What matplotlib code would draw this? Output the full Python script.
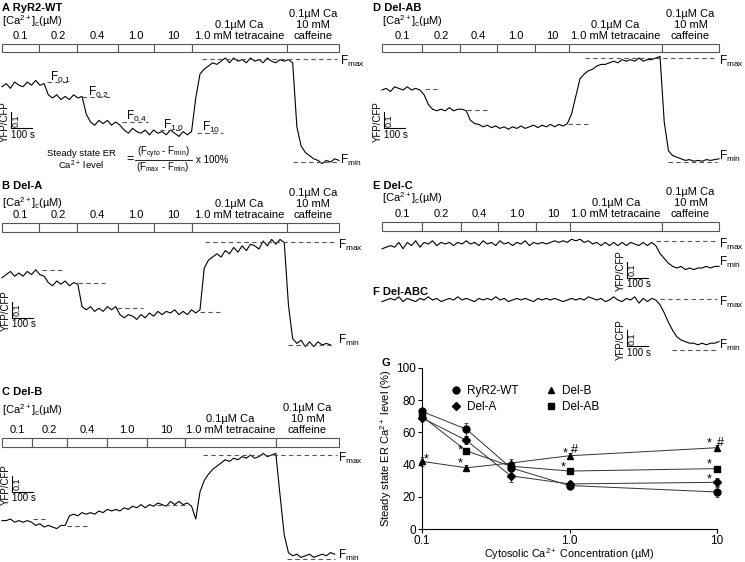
import numpy as np
import matplotlib
matplotlib.use('Agg')
import matplotlib.pyplot as plt
from matplotlib.patches import Rectangle
from matplotlib.lines import Line2D
from matplotlib.ticker import NullLocator

plt.rcParams['font.family'] = ['Liberation Sans', 'DejaVu Sans']
plt.rcParams['mathtext.fontset'] = 'custom'
plt.rcParams['mathtext.rm'] = 'Liberation Sans'
plt.rcParams['mathtext.it'] = 'Liberation Sans:italic'
plt.rcParams['mathtext.bf'] = 'Liberation Sans:bold'
plt.rcParams['mathtext.default'] = 'regular'

W, H = 745, 562
STEP = 20          # s between trace samples
SPAN = 1600        # s covered by the solution bar
BAR_W = 337        # px width of the solution bar
PX_PER_RATIO = 160 # px per 1.0 YFP/CFP

# ---- solution protocol ----
conditions = ['0.1', '0.2', '0.4', '1.0', '10']
tetracaine_label = ['0.1µM Ca', '1.0 mM tetracaine']
caffeine_label = ['0.1µM Ca', '10 mM', 'caffeine']

# ---- YFP/CFP traces (sampled every 20 s) ----
A_trace = [1.47, 1.49, 1.46, 1.50, 1.48, 1.47, 1.50, 1.48, 1.51, 1.48, 1.49,
           1.42, 1.40, 1.42, 1.39, 1.41, 1.39, 1.42, 1.40, 1.41,
           1.30, 1.25, 1.23, 1.26, 1.24, 1.26, 1.23, 1.25, 1.23,
           1.20, 1.18, 1.21, 1.19, 1.18, 1.20, 1.17, 1.20, 1.18, 1.19, 1.17,
           1.20, 1.18, 1.16, 1.19, 1.17, 1.19,
           1.40, 1.55, 1.58, 1.60, 1.62, 1.61, 1.63, 1.65, 1.62, 1.65, 1.63,
           1.64, 1.62, 1.65, 1.63, 1.64, 1.62, 1.65, 1.63, 1.62, 1.64, 1.63,
           1.64, 1.62,
           1.22, 1.10, 1.06, 1.04, 1.02, 1.01, 0.99, 1.01, 1.00, 1.02, 1.01]
A_levels = [(214, 323, 1.50), (380, 513, 1.406), (570, 693, 1.25),
            (750, 860, 1.20), (926, 1049, 1.18), (950, 1590, 1.644),
            (1382, 1605, 1.00)]

B_trace = [1.42, 1.44, 1.46, 1.43, 1.45, 1.43, 1.46, 1.44, 1.47, 1.44,
           1.43, 1.39, 1.37, 1.40, 1.38, 1.40, 1.37, 1.39, 1.38,
           1.24, 1.22, 1.24, 1.21, 1.23, 1.21, 1.24, 1.22, 1.24,
           1.19, 1.17, 1.19, 1.18, 1.16, 1.19, 1.17, 1.20, 1.18, 1.21,
           1.19, 1.21, 1.20, 1.22, 1.19, 1.21, 1.19, 1.22, 1.20, 1.22,
           1.48, 1.53, 1.55, 1.57, 1.55, 1.59, 1.57, 1.61, 1.58, 1.62,
           1.59, 1.63, 1.62, 1.60, 1.65, 1.62, 1.66, 1.63, 1.66, 1.64,
           1.25, 1.04, 1.01, 1.03, 0.99, 1.02, 0.99, 1.02, 1.00, 1.01, 1.00]
B_levels = [(190, 285, 1.47), (361, 489, 1.39), (546, 670, 1.23),
            (940, 1035, 1.206), (964, 1590, 1.644), (1358, 1572, 1.00)]

C_trace = [1.24, 1.24, 1.25, 1.23, 1.24, 1.23, 1.24, 1.23,
           1.21, 1.22, 1.20, 1.21, 1.20, 1.19, 1.21, 1.21,
           1.27, 1.28, 1.27, 1.29, 1.28, 1.29, 1.28, 1.30, 1.29, 1.31,
           1.30, 1.31, 1.30, 1.32, 1.31, 1.33, 1.32, 1.34, 1.32, 1.34,
           1.33, 1.35, 1.34, 1.33, 1.36, 1.34, 1.36, 1.34, 1.35, 1.33,
           1.25, 1.42, 1.49, 1.53, 1.56, 1.58, 1.60, 1.62, 1.61, 1.63,
           1.62, 1.64, 1.63, 1.65, 1.63, 1.64, 1.66, 1.64, 1.65, 1.66,
           1.40, 1.15, 1.04, 1.02, 1.03, 1.01, 1.02, 1.03, 1.01, 1.02,
           1.03, 1.02, 1.04, 1.03]
C_levels = [(148, 219, 1.25), (309, 404, 1.206), (736, 879, 1.34),
            (955, 1590, 1.65), (1353, 1580, 1.00)]

D_trace = [1.45, 1.46, 1.44, 1.47, 1.46, 1.45, 1.47, 1.45, 1.46, 1.45,
           1.42, 1.36, 1.33, 1.32, 1.33, 1.32, 1.34, 1.32, 1.33, 1.33, 1.32,
           1.26, 1.24, 1.235, 1.22, 1.23, 1.215, 1.225, 1.21, 1.22, 1.205,
           1.22, 1.21, 1.225, 1.21, 1.22, 1.23, 1.215, 1.23, 1.22, 1.235,
           1.22, 1.235, 1.225, 1.24,
           1.30, 1.41, 1.52, 1.55, 1.57, 1.58, 1.60, 1.61, 1.61, 1.62, 1.63,
           1.62, 1.64, 1.63, 1.64, 1.63, 1.65, 1.63, 1.64, 1.64, 1.65, 1.66,
           1.25, 1.07, 1.04, 1.03, 1.02, 1.01, 1.015, 1.005, 1.01, 1.005,
           1.015, 1.01, 1.015, 1.02]
D_levels = [(204, 275, 1.456), (403, 499, 1.325), (883, 978, 1.24),
            (964, 1591, 1.65), (1358, 1591, 1.00)]

E_trace = [1.12, 1.13, 1.14, 1.13, 1.16, 1.12, 1.16, 1.14, 1.17, 1.13,
           1.16, 1.15, 1.17, 1.14, 1.16, 1.15, 1.16, 1.14, 1.16, 1.15,
           1.17, 1.15, 1.16, 1.14, 1.17, 1.15, 1.16, 1.14, 1.17, 1.15,
           1.16, 1.14, 1.16, 1.15, 1.17, 1.14, 1.16, 1.15, 1.16, 1.15,
           1.16, 1.17, 1.16, 1.17, 1.16, 1.18, 1.17, 1.18, 1.16, 1.17,
           1.15, 1.16, 1.14, 1.16, 1.14, 1.16, 1.14, 1.16, 1.14, 1.16,
           1.15, 1.14, 1.16, 1.14, 1.16, 1.14,
           1.09, 1.06, 1.03, 1.01, 1.00, 1.01, 0.99, 1.00, 0.99, 1.00,
           1.00, 1.01, 1.00, 1.01, 1.01]
E_levels = [(1301, 1591, 1.17)]

F_trace = [1.29, 1.30, 1.31, 1.30, 1.32, 1.29, 1.31, 1.30, 1.29, 1.31,
           1.30, 1.32, 1.30, 1.31, 1.29, 1.30, 1.31, 1.30, 1.32, 1.30,
           1.31, 1.30, 1.29, 1.31, 1.30, 1.31, 1.30, 1.32, 1.30, 1.31,
           1.29, 1.30, 1.31, 1.30, 1.31, 1.30, 1.29, 1.31, 1.30, 1.31,
           1.30, 1.31, 1.30, 1.29, 1.30, 1.31, 1.30, 1.31, 1.30, 1.32,
           1.31, 1.30, 1.31, 1.29, 1.30, 1.32, 1.30, 1.29, 1.31, 1.30,
           1.32, 1.28, 1.31, 1.29, 1.31, 1.30,
           1.27, 1.22, 1.16, 1.11, 1.07, 1.05, 1.04, 1.03, 1.03, 1.02,
           1.03, 1.02, 1.03, 1.03, 1.04]
F_levels = [(1320, 1591, 1.306), (1377, 1591, 0.99)]

# ---- panel G: steady-state ER Ca2+ level (%) ----
conc = [0.1, 0.2, 0.4, 1.0, 10]
wt_mean = [73, 62, 38, 27, 23]
wt_err = [1.5, 4, 2, 2, 3]
dela_mean = [69, 55, 33, 28, 29]
dela_err = [1.5, 2.5, 4, 2, 2.5]
delb_mean = [42, 38, 41, 45.5, 50.5]
delb_err = [3, 1.5, 2.5, 1.5, 1.5]
delab_mean = [70, 48.5, 39, 36, 37.5]
delab_err = [1, 1, 2.5, 1, 1]
sig_marks = [(0.107, 43.5, '*'), (0.181, 48.5, '*'), (0.181, 40.5, '*'),
             (0.93, 47, '*'), (1.08, 49, '#'), (0.9, 38, '*'),
             (8.9, 53, '*'), (10.6, 53.5, '#'), (8.9, 40, '*'),
             (8.9, 30.5, '*')]

fig = plt.figure(figsize=(W / 100, H / 100), dpi=100)
canvas = fig.add_axes([0, 0, 1, 1])
canvas.set_xlim(0, W)
canvas.set_ylim(H, 0)
canvas.axis('off')

FS = 8


def draw_header(title, tx, ty, edges, top, bottom, ca_y):
    canvas.text(tx, ty, title, fontsize=8, fontweight='bold', ha='left', va='center')
    canvas.text(edges[0], ca_y, '[Ca$^{2+}$]$_c$(µM)', fontsize=FS, ha='left', va='center')
    for i in range(len(edges) - 1):
        canvas.add_patch(Rectangle((edges[i], top), edges[i + 1] - edges[i], bottom - top,
                                   fc='white', ec='#555555', lw=0.8))
    centers = [(edges[i] + edges[i + 1]) / 2 for i in range(len(edges) - 1)]
    for c, lab in zip(centers[:5], conditions):
        canvas.text(c, top - 8, lab, fontsize=FS, ha='center', va='center')
    for k, lab in enumerate(tetracaine_label):
        canvas.text(centers[5], top - 19 + 11 * k, lab, fontsize=FS, ha='center', va='center')
    for k, lab in enumerate(caffeine_label):
        canvas.text(centers[6], top - 30 + 11 * k, lab, fontsize=FS, ha='center', va='center')


def trace_axes(x0, yref, ytop, ybot):
    ax = fig.add_axes([x0 / W, 1 - ybot / H, BAR_W / W, (ybot - ytop) / H])
    ax.set_xlim(0, SPAN)
    ax.set_ylim(1 + (yref - ybot) / PX_PER_RATIO, 1 + (yref - ytop) / PX_PER_RATIO)
    ax.axis('off')
    return ax


def draw_trace(ax, trace, levels, anchor):
    t = np.arange(len(trace)) * STEP
    ax.plot(t, trace, color='black', lw=0.8, clip_on=False)
    for t0, t1, r in levels:
        ax.plot([t0, t1], [r, r], color='#555555', lw=0.8, ls=(0, (4, 3)), clip_on=False)
    sx, sy = anchor
    ax.plot([sx, sx, sx + 100], [sy + 0.1, sy, sy], color='black', lw=0.8, clip_on=False)
    ax.text(sx + 24, sy + 0.05, '0.1', rotation=90, fontsize=6.5, ha='center', va='center')
    ax.text(sx + 55, sy - 0.04, '100 s', fontsize=7, ha='center', va='center')
    ax.text(sx - 28, sy + 0.045, 'YFP/CFP', rotation=90, fontsize=7, ha='center', va='center')


def flabel(x, y, sub):
    canvas.text(x, y, 'F$_{%s}$' % sub, fontsize=8.5, ha='left', va='center')


left_edges = [2, 39, 77, 118, 154, 192, 287, 339]
c_edges = [2, 32, 67, 107, 147, 185, 276, 339]
d_edges = [382, 422, 460, 497, 535, 569, 662, 719]
e_edges = [382, 422, 461, 498, 536, 570, 662, 719]

draw_header('A RyR2-WT', 2, 8, left_edges, 44, 52, 21)
draw_header('B Del-A', 2, 186, left_edges, 223, 232, 203)
draw_header('C Del-B', 2, 392, c_edges, 438, 447, 410)
draw_header('D Del-AB', 373, 8, d_edges, 44, 52, 21)
draw_header('E Del-C', 373, 186, e_edges, 222, 231, 198)
canvas.text(373, 292, 'F Del-ABC', fontsize=8, fontweight='bold', ha='left', va='center')

axA = trace_axes(2, 162, 55, 170)
draw_trace(axA, A_trace, A_levels, (43, 1.21))
axB = trace_axes(2, 345, 235, 350)
draw_trace(axB, B_trace, B_levels, (47, 1.17))
axC = trace_axes(2, 559, 450, 565)
draw_trace(axC, C_trace, C_levels, (47, 1.42))
axD = trace_axes(382, 162, 55, 170)
draw_trace(axD, D_trace, D_levels, (10, 1.21))
axE = trace_axes(382, 268, 235, 290)
draw_trace(axE, E_trace, E_levels, (1164, 0.94))
axF = trace_axes(382, 348, 295, 360)
draw_trace(axF, F_trace, F_levels, (1164, 1.01))

# level labels in panel A
flabel(50, 77, '0.1')
flabel(88, 92, '0.2')
flabel(126, 116, '0.4')
flabel(163, 125, '1.0')
flabel(202, 127, '10')
for (x, y_max, y_min) in [(340, 61, 160), (338, 245, 340), (338, 458, 555),
                          (719, 61, 156), (719, 244, 262), (719, 302, 345)]:
    flabel(x, y_max, 'max')
    flabel(x, y_min, 'min')

# formula
canvas.text(81, 153, 'Steady state ER', fontsize=6.8, ha='center', va='center')
canvas.text(81, 165, 'Ca$^{2+}$ level', fontsize=6.8, ha='center', va='center')
canvas.text(130, 159, '=', fontsize=9, ha='center', va='center')
canvas.text(163, 153, '(F$_{cyto}$ - F$_{min}$)', fontsize=7, ha='center', va='center')
canvas.plot([135, 192], [160, 160], color='black', lw=0.6)
canvas.text(163, 167, '(F$_{max}$ - F$_{min}$)', fontsize=7, ha='center', va='center')
canvas.text(212, 160, 'x 100%', fontsize=7, ha='center', va='center')

# ---- panel G ----
axg = fig.add_axes([422 / W, 1 - 529 / H, 295 / W, 161 / H])
series = [(wt_mean, wt_err, 'o', 'RyR2-WT', 5),
          (dela_mean, dela_err, 'D', 'Del-A', 4.2),
          (delb_mean, delb_err, '^', 'Del-B', 5),
          (delab_mean, delab_err, 's', 'Del-AB', 5)]
for mean, err, mk, lab, ms in series:
    axg.errorbar(conc, mean, yerr=err, fmt='none', ecolor='#333333', elinewidth=0.6,
                 capsize=1.5, capthick=0.6, clip_on=False)
    axg.plot(conc, mean, color='#333333', lw=0.7, marker=mk, ms=ms, mfc='black',
             mec='black', clip_on=False, zorder=3)
for x, y, s in sig_marks:
    axg.text(x, y, s, fontsize=9, ha='center', va='center')

axg.set_xscale('log')
axg.set_xlim(0.1, 10)
axg.set_ylim(0, 100)
axg.set_xticks([0.1, 1, 10])
axg.set_xticklabels(['0.1', '1.0', '10'])
axg.xaxis.set_minor_locator(NullLocator())
axg.set_yticks(range(0, 101, 20))
axg.tick_params(direction='out', length=3, width=0.8, labelsize=8.5, pad=1.5)
axg.tick_params(axis='x', pad=1)
for side in ['top', 'right']:
    axg.spines[side].set_visible(False)
for side in ['left', 'bottom']:
    axg.spines[side].set_linewidth(0.8)
axg.set_ylabel('Steady state ER Ca$^{2+}$ level (%)', fontsize=8, labelpad=1)
axg.set_xlabel('Cytosolic Ca$^{2+}$ Concentration (µM)', fontsize=7.8, labelpad=0)

handles = [Line2D([], [], ls='none', marker=mk, ms=ms, mfc='black', mec='black')
           for _, _, mk, _, ms in series]
axg.legend(handles, [s[3] for s in series], ncol=2, loc='upper left',
           bbox_to_anchor=(0.08, 0.93), frameon=False, fontsize=8.5,
           handlelength=0.8, handletextpad=0.5, columnspacing=2.4,
           labelspacing=0.35, borderpad=0)
canvas.text(386, 363, 'G', fontsize=8, fontweight='bold', ha='center', va='center')

fig.savefig('out.png', dpi=100)
